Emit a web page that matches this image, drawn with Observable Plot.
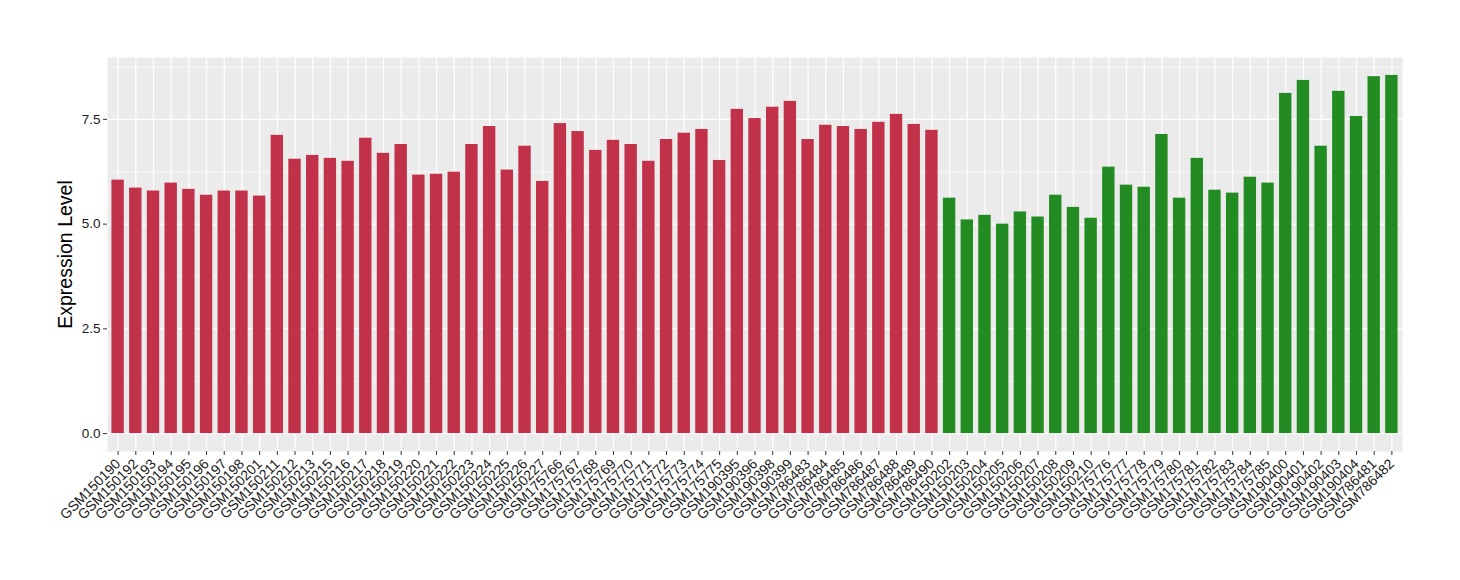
<!DOCTYPE html>
<html>
<head>
<meta charset="utf-8">
<script src="https://cdn.jsdelivr.net/npm/d3@7"></script>
<script src="https://cdn.jsdelivr.net/npm/@observablehq/plot@0.6"></script>
<style>
  html, body { margin: 0; padding: 0; background: #ffffff; }
  #chart { width: 1460px; height: 580px; }
  svg { font-family: "Liberation Sans", Arial, Helvetica, sans-serif; }
</style>
</head>
<body>
<div id="chart"></div>
<script>
// Samples (group 1 = red, group 2 = green)
const groupASamples = [
  "GSM150190","GSM150192","GSM150193","GSM150194","GSM150195","GSM150196","GSM150197","GSM150198","GSM150201",
  "GSM150211","GSM150212","GSM150213","GSM150215","GSM150216","GSM150217","GSM150218","GSM150219","GSM150220",
  "GSM150221","GSM150222","GSM150223","GSM150224","GSM150225","GSM150226","GSM150227",
  "GSM175766","GSM175767","GSM175768","GSM175769","GSM175770","GSM175771","GSM175772","GSM175773","GSM175774","GSM175775",
  "GSM190395","GSM190396","GSM190398","GSM190399",
  "GSM786483","GSM786484","GSM786485","GSM786486","GSM786487","GSM786488","GSM786489","GSM786490"
];
const groupAValues = [
  6.05,5.86,5.79,5.98,5.83,5.69,5.79,5.79,5.67,
  7.12,6.55,6.64,6.57,6.50,7.05,6.69,6.90,6.17,
  6.19,6.24,6.90,7.33,6.29,6.86,6.02,
  7.40,7.21,6.76,7.00,6.90,6.50,7.02,7.17,7.26,6.52,
  7.74,7.52,7.79,7.93,
  7.02,7.36,7.33,7.26,7.43,7.62,7.38,7.24
];
const groupBSamples = [
  "GSM150202","GSM150203","GSM150204","GSM150205","GSM150206","GSM150207","GSM150208","GSM150209","GSM150210",
  "GSM175776","GSM175777","GSM175778","GSM175779","GSM175780","GSM175781","GSM175782","GSM175783","GSM175784","GSM175785",
  "GSM190400","GSM190401","GSM190402","GSM190403","GSM190404",
  "GSM786481","GSM786482"
];
const groupBValues = [
  5.62,5.10,5.21,5.00,5.29,5.17,5.69,5.40,5.14,
  6.36,5.93,5.88,7.14,5.62,6.57,5.81,5.74,6.12,5.98,
  8.12,8.43,6.86,8.17,7.57,
  8.52,8.55
];
const yTicks = [0, 2.5, 5, 7.5];
const yMinorTicks = [1.25, 3.75, 6.25, 8.75];
const yLabel = "Expression Level";

const data = [
  ...groupASamples.map((s, i) => ({sample: s, value: groupAValues[i], group: "A"})),
  ...groupBSamples.map((s, i) => ({sample: s, value: groupBValues[i], group: "B"}))
];
const order = data.map(d => d.sample);
const maxV = d3.max(data, d => d.value);
const pad = maxV * 0.05;

const chart = Plot.plot({
  width: 1460,
  height: 580,
  marginLeft: 107,
  marginRight: 58,
  marginTop: 57,
  marginBottom: 129,
  style: {fontFamily: "Liberation Sans, Arial, sans-serif", fontSize: "13px", background: "#ffffff", color: "#1a1a1a"},
  x: {type: "band", domain: order, paddingInner: 0.3, paddingOuter: 0.25, label: null},
  y: {domain: [-pad, maxV + pad], label: null},
  color: {domain: ["A", "B"], range: ["#C2314A", "#228B22"]},
  marks: [
    Plot.frame({fill: "#EBEBEB", stroke: null}),
    Plot.ruleY(yMinorTicks, {stroke: "#ffffff", strokeWidth: 0.6}),
    Plot.ruleY(yTicks, {stroke: "#ffffff", strokeWidth: 1.2}),
    Plot.gridX({stroke: "#ffffff", strokeOpacity: 1, strokeWidth: 1.2}),
    Plot.barY(data, {x: "sample", y1: 0, y2: "value", fill: "group"}),
    Plot.axisY({ticks: yTicks, tickFormat: d3.format(".1f"), tickSize: 4, tickPadding: 3,
      fontSize: 13.5, stroke: "#333333", fill: "#1a1a1a", label: null}),
    Plot.axisX({tickRotate: -45, tickSize: 4, tickPadding: 6, fontSize: 14,
      stroke: "#333333", fill: "#1a1a1a", label: null}),
    Plot.text([yLabel], {text: d => d, frameAnchor: "left", textAnchor: "middle", dx: -42, rotate: -90,
      fontSize: 19.5, fill: "#000000"})
  ]
});
document.getElementById("chart").appendChild(chart);
</script>
</body>
</html>
